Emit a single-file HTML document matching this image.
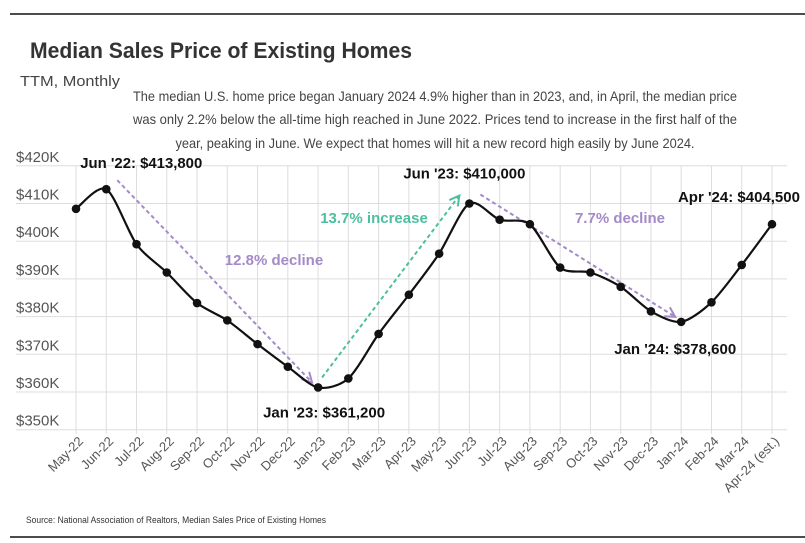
<!DOCTYPE html>
<html><head><meta charset="utf-8">
<style>
html,body{margin:0;padding:0;background:#fff;}
svg{display:block;font-family:"Liberation Sans",sans-serif;}
</style></head>
<body>
<svg id="chart" width="805" height="543" viewBox="0 0 805 543" xmlns="http://www.w3.org/2000/svg">
  <line x1="10" y1="14" x2="805" y2="14" stroke="#111" stroke-width="1.5"/>
  <line x1="10" y1="537" x2="805" y2="537" stroke="#111" stroke-width="1.5"/>
  <text x="30" y="58" font-size="22" font-weight="bold" fill="#333" textLength="382" lengthAdjust="spacingAndGlyphs">Median Sales Price of Existing Homes</text>
  <text x="20" y="86" font-size="15" fill="#444" textLength="100" lengthAdjust="spacingAndGlyphs">TTM, Monthly</text>
  <g font-size="14" fill="#444" text-anchor="middle">
    <text x="435" y="101" textLength="604" lengthAdjust="spacingAndGlyphs">The median U.S. home price began January 2024 4.9% higher than in 2023, and, in April, the median price</text>
    <text x="435" y="124" textLength="604" lengthAdjust="spacingAndGlyphs">was only 2.2% below the all-time high reached in June 2022. Prices tend to increase in the first half of the</text>
    <text x="435" y="148" textLength="519" lengthAdjust="spacingAndGlyphs">year, peaking in June. We expect that homes will hit a new record high easily by June 2024.</text>
  </g>
  <g id="grid"></g>
  <g id="yaxis"></g>
  <g id="xaxis"></g>
  <g id="annots"></g>
  <path id="line" fill="none" stroke="#111" stroke-width="2.2"/>
  <g id="dots"></g>
  <g id="labels" font-size="15" font-weight="bold" fill="#111"></g>
  <text x="26" y="523" font-size="9" fill="#333" textLength="300" lengthAdjust="spacingAndGlyphs">Source:  National Association of Realtors, Median Sales Price of Existing Homes</text>
</svg>
<script>
const categories = ["May-22","Jun-22","Jul-22","Aug-22","Sep-22","Oct-22","Nov-22","Dec-22","Jan-23","Feb-23","Mar-23","Apr-23","May-23","Jun-23","Jul-23","Aug-23","Sep-23","Oct-23","Nov-23","Dec-23","Jan-24","Feb-24","Mar-24","Apr-24 (est.)"];
const prices = [408.6,413.8,399.2,391.7,383.6,379.0,372.7,366.7,361.2,363.6,375.4,385.8,396.7,410.0,405.7,404.5,393.0,391.7,387.9,381.4,378.6,383.8,393.7,404.5];
const yTicks = [350,360,370,380,390,400,410,420];
const yTickLabels = ["$350K","$360K","$370K","$380K","$390K","$400K","$410K","$420K"];
const calloutIdx = [1,8,13,20,23];
const calloutText = ["Jun '22: $413,800","Jan '23: $361,200","Jun '23: $410,000","Jan '24: $378,600","Apr '24: $404,500"];
const trendFrom = [1,8,13];
const trendTo = [8,13,20];
const trendText = ["12.8% decline","13.7% increase","7.7% decline"];
const trendColor = ["#a48ac8","#4dbf9e","#a48ac8"];

// layout (not data)
const calloutOffset = [[-26,-21],[-55,30],[-66,-25],[-67,32],[-94,-22]];
const trendLabelPos = [[274,265],[374,223],[620,223]];

const NS="http://www.w3.org/2000/svg";
const x0=76, step=30.26, xRight=787, xLeftGrid=16;
const yBase=392, yPer=3.77;
const X = i => x0 + i*step;
const Y = v => yBase - (v-360)*yPer;
function mk(tag, attrs, parent){const e=document.createElementNS(NS,tag);for(const k in attrs)e.setAttribute(k,attrs[k]);parent.appendChild(e);return e;}

const grid=document.getElementById('grid');
yTicks.forEach((t,k)=>{
  const l=mk('line',{x1:xLeftGrid,x2:xRight,y1:Y(t),y2:Y(t),stroke:"#ddd","stroke-width":1},grid);
  
  
  const tx=mk('text',{x:16,y:Y(t)-4,"font-size":15,fill:"#555"},document.getElementById('yaxis'));
  
  
  tx.textContent=yTickLabels[k];
});
categories.forEach((c,i)=>{
  const l=mk('line',{x1:X(i),x2:X(i),y1:Y(420),y2:Y(350)+4,stroke:"#ddd","stroke-width":1},grid);
  
  
  const tx=mk('text',{transform:`translate(${X(i)+8},${442}) rotate(-45)`,"text-anchor":"end","font-size":13,fill:"#555"},document.getElementById('xaxis'));
  
  
  tx.textContent=c;
});

const pts=prices.map((v,i)=>[X(i),Y(v)]);
let d=`M${pts[0][0]},${pts[0][1]}`;
for(let i=0;i<pts.length-1;i++){
  const p0=pts[Math.max(0,i-1)],p1=pts[i],p2=pts[i+1],p3=pts[Math.min(pts.length-1,i+2)];
  const t=0.14;
  const c1=[p1[0]+(p2[0]-p0[0])*t,p1[1]+(p2[1]-p0[1])*t];
  const c2=[p2[0]-(p3[0]-p1[0])*t,p2[1]-(p3[1]-p1[1])*t];
  d+=` C${c1[0]},${c1[1]} ${c2[0]},${c2[1]} ${p2[0]},${p2[1]}`;
}
document.getElementById('line').setAttribute('d',d);
const dots=document.getElementById('dots');
pts.forEach(p=>{
  const c=mk('circle',{cx:p[0],cy:p[1],r:4.3,fill:"#111"},dots);
  
  
});
const labels=document.getElementById('labels');
calloutIdx.forEach((i,k)=>{
  const t=mk('text',{x:X(i)+calloutOffset[k][0],y:Y(prices[i])+calloutOffset[k][1],textLength:122,lengthAdjust:"spacingAndGlyphs"},labels);
  
  
  t.textContent=calloutText[k];
});

const annots=document.getElementById('annots');
trendFrom.forEach((f,k)=>{
  const to=trendTo[k], color=trendColor[k];
  const up = prices[to] > prices[f];
  let x1,y1,x2,y2;
  if(!up){x1=X(f)+11;y1=Y(prices[f])-9;x2=X(to)-6;y2=Y(prices[to])-5;}
  else{x1=X(f)+4;y1=Y(prices[f])-10;x2=X(to)-10;y2=Y(prices[to])-8;}
  const l=mk('line',{x1,y1,x2,y2,stroke:color,"stroke-width":2,"stroke-dasharray":"4,3"},annots);
  
  
  const a=Math.atan2(y2-y1,x2-x1),L=11;
  const h=mk('path',{d:`M${x2-L*Math.cos(a-0.5)},${y2-L*Math.sin(a-0.5)} L${x2},${y2} L${x2-L*Math.cos(a+0.5)},${y2-L*Math.sin(a+0.5)}`,fill:"none",stroke:color,"stroke-width":2},annots);
  
  
  const t=mk('text',{x:trendLabelPos[k][0],y:trendLabelPos[k][1],"font-size":15,"font-weight":"bold",fill:color,"text-anchor":"middle"},annots);
  
  
  t.textContent=trendText[k];
});
</script>
</body></html>
